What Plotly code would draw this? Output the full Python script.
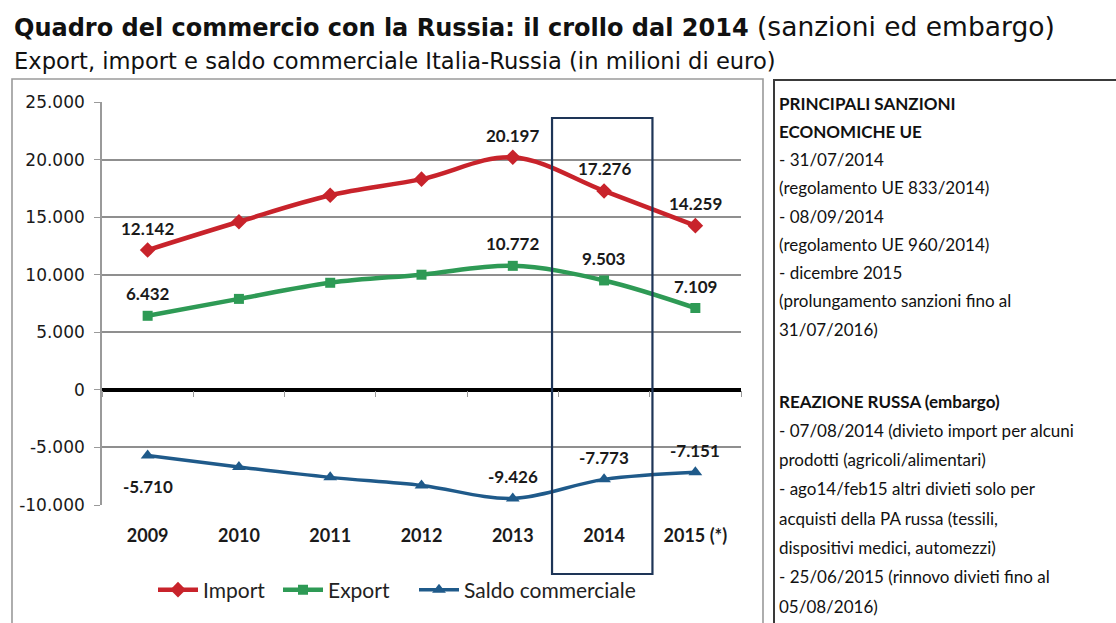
import plotly.graph_objects as go

# ---------------- data ----------------
years = ["2009", "2010", "2011", "2012", "2013", "2014", "2015 (*)"]
import_vals = [12142, 14600, 16900, 18300, 20197, 17276, 14259]
export_vals = [6432, 7900, 9300, 10000, 10772, 9503, 7109]
saldo_vals = [-5710, -6700, -7600, -8300, -9426, -7773, -7151]
labeled_idx = [0, 4, 5, 6]
y_ticks = [-10000, -5000, 0, 5000, 10000, 15000, 20000, 25000]

title_bold = "Quadro del commercio con la Russia: il crollo dal 2014"
title_rest = " (sanzioni ed embargo)"
subtitle = "Export, import e saldo commerciale Italia-Russia (in milioni di euro)"

box_block1 = [
    "<b>PRINCIPALI SANZIONI</b>",
    "<b>ECONOMICHE UE</b>",
    "- 31/07/2014",
    "(regolamento UE 833/2014)",
    "- 08/09/2014",
    "(regolamento UE 960/2014)",
    "- dicembre 2015",
    "(prolungamento sanzioni fino al",
    "31/07/2016)",
]
box_block2 = [
    "<b>REAZIONE RUSSA (embargo)</b>",
    "- 07/08/2014 (divieto import per alcuni",
    "prodotti (agricoli/alimentari)",
    "- ago14/feb15 altri divieti solo per",
    "acquisti della PA russa (tessili,",
    "dispositivi medici, automezzi)",
    "- 25/06/2015 (rinnovo divieti fino al",
    "05/08/2016)",
]

# ---------------- helpers ----------------
W, H = 1116, 623
L, R, T, B = 102, 375, 102, 118
PW, PH = W - L - R, H - T - B


def fmt(v):
    return f"{v:,}".replace(",", ".")


def px(x):
    return (x - L) / PW


def py(y):
    return (H - B - y) / PH


LABEL_FONT = dict(family="Lato", size=17, color="#1a1a1a", weight="bold")

# name, values, colour, marker, marker size, line width, legend id, legend x (px)
series = [
    ("Import", import_vals, "#C8232B", "diamond", 12, 4.5, "legend", 153),
    ("Export", export_vals, "#2E9A55", "square", 10, 4.5, "legend2", 278),
    ("Saldo commerciale", saldo_vals, "#1F5A8A", "triangle-up", 12, 3.5, "legend3", 414),
]

fig = go.Figure()
annotations = []
legends = {}
for name, vals, color, sym, msize, lw, leg, legx in series:
    fig.add_trace(go.Scatter(
        x=years, y=vals, name=name, mode="lines+markers",
        line=dict(color=color, width=lw, shape="spline", smoothing=1.0),
        marker=dict(symbol=sym, size=msize, color=color),
        cliponaxis=False, legend=leg,
    ))
    legends[leg] = dict(orientation="h", x=px(legx), y=py(590), xanchor="left",
                        yanchor="middle", font=dict(family="Lato", size=21, color="#222"),
                        bgcolor="rgba(0,0,0,0)", itemwidth=40)
    for i in labeled_idx:
        below = name == "Saldo commerciale" and i == 0
        annotations.append(dict(
            x=i, y=vals[i], xref="x", yref="y", text=fmt(vals[i]),
            showarrow=False, xanchor="center", yanchor="middle",
            yshift=-31 if below else 22, font=LABEL_FONT))

# invisible trace to carry the small tick marks on the zero axis
fig.add_trace(go.Scatter(x=[0], y=[0], xaxis="x2", mode="markers",
                         marker=dict(opacity=0), showlegend=False, hoverinfo="skip"))

annotations += [
    dict(x=px(12), y=py(27), xref="paper", yref="paper", xanchor="left", yanchor="middle",
         showarrow=False,
         text=f"<b>{title_bold}</b><span style='font-weight:normal;font-size:26.5px'>{title_rest}</span>",
         font=dict(family="DejaVu Sans", size=24, color="#111")),
    dict(x=px(12), y=py(61), xref="paper", yref="paper", xanchor="left", yanchor="middle",
         showarrow=False, text=subtitle,
         font=dict(family="DejaVu Sans", size=22.6, color="#111")),
]
for i, line in enumerate(box_block1):
    annotations.append(dict(x=px(777), y=py(103 + 28.25 * i), xref="paper", yref="paper",
                            xanchor="left", yanchor="middle", showarrow=False, text=line,
                            font=dict(family="Lato", size=17, color="#111")))
for i, line in enumerate(box_block2):
    annotations.append(dict(x=px(777), y=py(401 + 29.3 * i), xref="paper", yref="paper",
                            xanchor="left", yanchor="middle", showarrow=False, text=line,
                            font=dict(family="Lato", size=17, color="#111")))

shapes = [
    # 2014 highlight box
    dict(type="rect", xref="x", yref="paper", x0=4.43, x1=5.53, y0=py(574), y1=py(118),
         line=dict(color="#1E3557", width=2.2), fillcolor="rgba(0,0,0,0)", layer="above"),
    # left panel frame
    dict(type="path", xref="paper", yref="paper",
         path=f"M {px(12)} {py(630)} L {px(12)} {py(79)} L {px(763)} {py(79)} L {px(763)} {py(630)}",
         line=dict(color="#9a9a9a", width=1.6)),
    # right panel frame
    dict(type="path", xref="paper", yref="paper",
         path=f"M {px(774)} {py(630)} L {px(774)} {py(80)} L {px(1120)} {py(80)}",
         line=dict(color="#3a3a3a", width=2)),
]

fig.update_layout(
    width=W, height=H,
    margin=dict(l=L, r=R, t=T, b=B, autoexpand=False),
    paper_bgcolor="white", plot_bgcolor="white",
    showlegend=True,
    **legends,
    xaxis=dict(type="category", range=[-0.5, 6.5], showgrid=False, showline=False,
               zeroline=False, ticks="", ticklabelstandoff=18,
               tickfont=dict(family="Lato", size=18, color="#1a1a1a", weight="bold")),
    xaxis2=dict(overlaying="x", anchor="free", position=10000 / 35000,
                range=[-0.5, 6.5], showgrid=False, zeroline=False, showline=False,
                showticklabels=False, ticks="outside", ticklen=6, tickwidth=1.2,
                tickcolor="#999", tickvals=[-0.5, 0.5, 1.5, 2.5, 3.5, 4.5, 5.5, 6.5]),
    yaxis=dict(range=[-10000, 25000], tickvals=y_ticks, ticktext=[fmt(v) for v in y_ticks],
               showgrid=True, gridcolor="#8f8f8f", gridwidth=1.6,
               zeroline=True, zerolinecolor="#000", zerolinewidth=4,
               showline=True, linecolor="#9a9a9a", linewidth=1.6,
               ticks="outside", ticklen=6, tickcolor="#9a9a9a", ticklabelstandoff=6,
               tickfont=dict(family="DejaVu Sans", size=17, color="#1a1a1a")),
    annotations=annotations,
    shapes=shapes,
)

fig.write_html("out.html", config={"displayModeBar": False},
               post_script="document.body.style.margin='0';")
